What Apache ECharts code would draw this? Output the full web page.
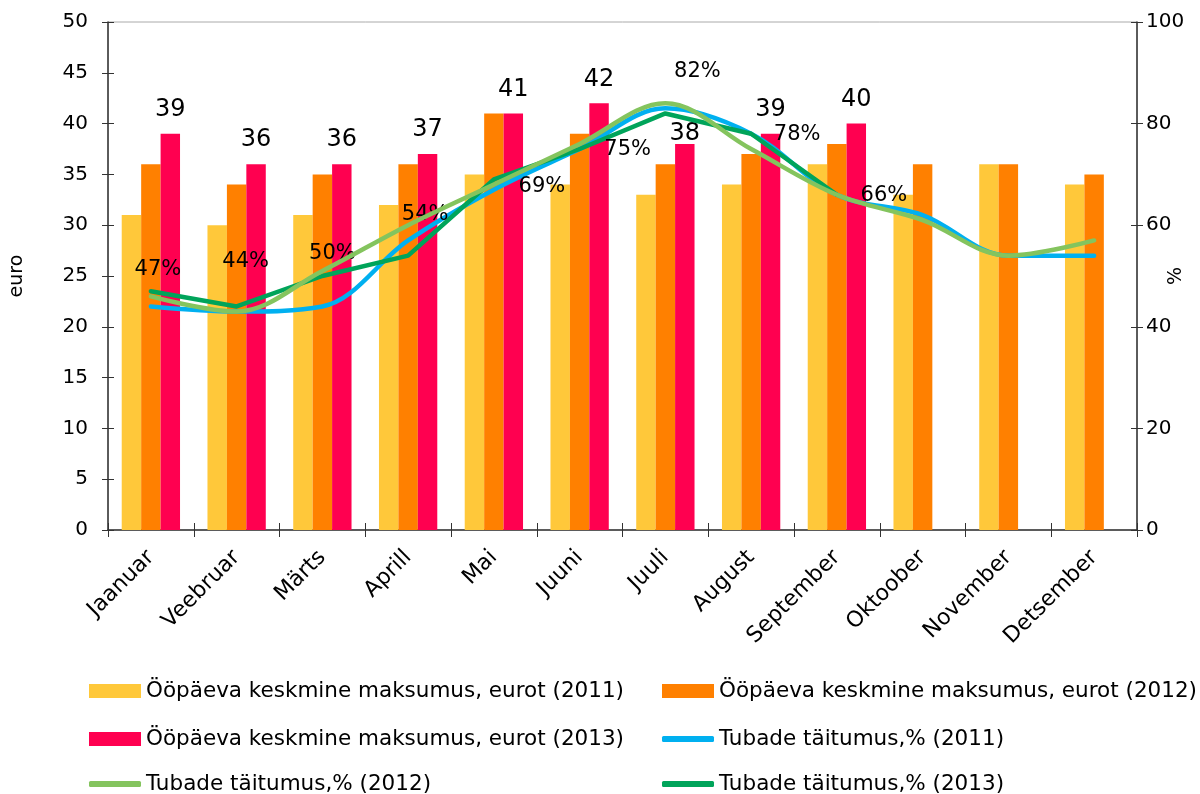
<!DOCTYPE html>
<html>
<head>
<meta charset="utf-8">
<script src="https://cdn.jsdelivr.net/npm/echarts@6/dist/echarts.min.js"></script>
<style>
html,body{margin:0;padding:0;background:#fff;}
#chart{width:1200px;height:794px;}
</style>
</head>
<body>
<div id="chart"></div>
<script>
const categories = ['Jaanuar','Veebruar','Märts','Aprill','Mai','Juuni','Juuli','August','September','Oktoober','November','Detsember'];
const cost2011 = [31, 30, 31, 32, 35, 34, 33, 34, 36, 33, 36, 34];
const cost2012 = [36, 34, 35, 36, 41, 39, 36, 37, 38, 36, 36, 35];
const cost2013 = [39, 36, 36, 37, 41, 42, 38, 39, 40, null, null, null];
const occ2011 = [44, 43, 44, 57, 67, 75, 83, 78, 66, 62, 54, 54];
const occ2012 = [46, 43, 51, 60, 68, 76, 84, 75, 66, 61, 54, 57];
const occ2013 = [47, 44, 50, 54, 69, 75, 82, 78, 66, null, null, null];
const leftTicks = [0, 5, 10, 15, 20, 25, 30, 35, 40, 45, 50];
const rightTicks = [0, 20, 40, 60, 80, 100];
const seriesNames = [
  'Ööpäeva keskmine maksumus, eurot (2011)',
  'Ööpäeva keskmine maksumus, eurot (2012)',
  'Ööpäeva keskmine maksumus, eurot (2013)',
  'Tubade täitumus,% (2011)',
  'Tubade täitumus,% (2012)',
  'Tubade täitumus,% (2013)'
];

// label placement (styling, not data)
const occLabelOffsets = [[7,-22],[9,-45],[10,-22],[17,-41],[48,7],[48,1],[32,-42],[46,1],[47,1]];
const barLabelOffsets = [0,0,0,0,0,0,14,0,0];

const FONT = 'DejaVu Sans';
const C = {
  y: '#FFC83A', o: '#FF8000', r: '#FF0050',
  b: '#00B0F0', lg: '#84C45E', dg: '#00A45A'
};

const chart = echarts.init(document.getElementById('chart'));

const legendPos = [
  {left: 89, top: 680}, {left: 662, top: 680},
  {left: 89, top: 728}, {left: 662, top: 728},
  {left: 89, top: 773}, {left: 662, top: 773}
];
const legends = seriesNames.map((n, i) => ({
  data: [n],
  left: legendPos[i].left,
  top: legendPos[i].top,
  itemWidth: 52,
  itemHeight: i < 3 ? 14 : 6,
  icon: i < 3 ? 'rect' : 'roundRect',
  itemGap: 0,
  padding: 0,
  selectedMode: false,
  textStyle: {fontFamily: FONT, fontSize: 21.5, color: '#000', lineHeight: 22}
}));

const option = {
  animation: false,
  backgroundColor: '#fff',
  legend: legends,
  grid: {left: 108, right: 63, top: 22, bottom: 264, show: true, borderColor: '#aaa', borderWidth: 1,
    containLabel: false, outerBoundsMode: 'none'},
  xAxis: [{
    type: 'category',
    data: categories,
    boundaryGap: true,
    axisLine: {lineStyle: {color: '#333', width: 1.5}},
    axisTick: {show: true, alignWithLabel: false, length: 7, lineStyle: {color: '#333'}},
    axisLabel: {rotate: 45, fontFamily: FONT, fontSize: 22, color: '#000', margin: 24, interval: 0}
  }, {
    type: 'category',
    data: categories,
    position: 'bottom',
    boundaryGap: true,
    axisLine: {show: false},
    axisTick: {show: true, inside: true, length: 7, lineStyle: {color: '#333'}},
    axisLabel: {show: false}
  }],
  yAxis: [{
    type: 'value', min: 0, max: 50, interval: 5,
    name: 'euro', nameLocation: 'middle', nameGap: 81, nameRotate: 90, nameMoveOverlap: false,
    nameTextStyle: {fontFamily: FONT, fontSize: 19, color: '#000'},
    axisLine: {show: true, lineStyle: {color: '#333', width: 1.5}},
    axisTick: {show: true, length: 6, lineStyle: {color: '#333'}},
    splitLine: {show: false},
    axisLabel: {fontFamily: FONT, fontSize: 20, color: '#000', margin: 20,
      customValues: leftTicks}
  }, {
    type: 'value', min: 0, max: 100, interval: 20, position: 'right',
    name: '%', nameLocation: 'middle', nameGap: 30, nameRotate: 90, nameMoveOverlap: false,
    nameTextStyle: {fontFamily: FONT, fontSize: 19, color: '#000'},
    axisLine: {show: true, lineStyle: {color: '#333', width: 1.5}},
    axisTick: {show: true, length: 6, lineStyle: {color: '#333'}},
    splitLine: {show: false},
    axisLabel: {fontFamily: FONT, fontSize: 20, color: '#000', margin: 9,
      customValues: rightTicks}
  }, {
    type: 'value', min: 0, max: 50, interval: 5, position: 'left',
    axisLine: {show: false},
    axisTick: {show: true, inside: true, length: 6, lineStyle: {color: '#333'}},
    splitLine: {show: false}, axisLabel: {show: false}
  }, {
    type: 'value', min: 0, max: 100, interval: 20, position: 'right',
    axisLine: {show: false},
    axisTick: {show: true, inside: true, length: 6, lineStyle: {color: '#333'}},
    splitLine: {show: false}, axisLabel: {show: false}
  }],
  series: [
    {name: seriesNames[0], type: 'bar', data: cost2011, barGap: '0%', barCategoryGap: '32%',
      itemStyle: {color: C.y}, z: 2},
    {name: seriesNames[1], type: 'bar', data: cost2012, barGap: '0%', barCategoryGap: '32%',
      itemStyle: {color: C.o}, z: 2},
    {name: seriesNames[2], type: 'bar', barGap: '0%', barCategoryGap: '32%',
      data: cost2013.map((v, i) => ({value: v, label: {offset: [0, barLabelOffsets[i] || 0]}})),
      itemStyle: {color: C.r}, z: 2,
      label: {show: true, position: 'top', distance: 12, fontFamily: FONT, fontSize: 24, color: '#000'}},
    {name: seriesNames[3], type: 'line', yAxisIndex: 1, data: occ2011, smooth: 0.35,
      symbol: 'circle', symbolSize: 1, showSymbol: false,
      itemStyle: {color: C.b}, lineStyle: {color: C.b, width: 4.5, cap: 'round'}, z: 5},
    {name: seriesNames[5], type: 'line', yAxisIndex: 1, smooth: false,
      data: occ2013.map((v, i) => ({value: v, label: {offset: occLabelOffsets[i] || [0, 0]}})),
      symbol: 'circle', symbolSize: 1, showSymbol: true,
      itemStyle: {color: C.dg}, lineStyle: {color: C.dg, width: 4.5, cap: 'round', join: 'round'}, z: 6,
      label: {show: true, position: 'inside', align: 'center', verticalAlign: 'middle',
        fontFamily: FONT, fontSize: 21, color: '#000',
        formatter: p => p.value + '%'}},
    {name: seriesNames[4], type: 'line', yAxisIndex: 1, data: occ2012, smooth: 0.35,
      symbol: 'circle', symbolSize: 1, showSymbol: false,
      itemStyle: {color: C.lg}, lineStyle: {color: C.lg, width: 4.5, cap: 'round'}, z: 7}
  ]
};
chart.setOption(option);
</script>
</body>
</html>
